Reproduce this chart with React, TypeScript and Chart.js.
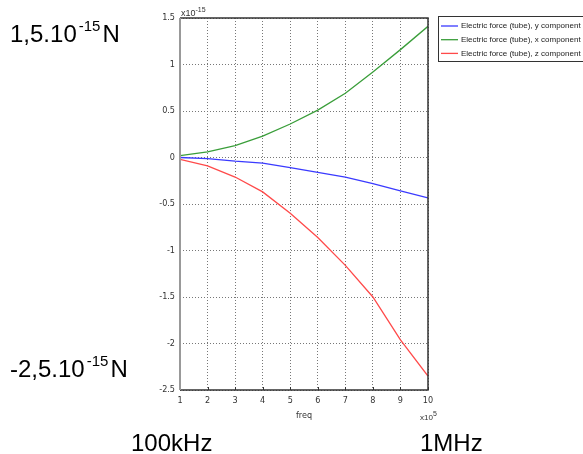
import React, { useEffect, useRef } from "react";
import { Chart, registerables } from "chart.js";

Chart.register(...registerables);

const freq = [1, 2, 3, 4, 5, 6, 7, 8, 9, 10];
const yComponent = [0, -0.013, -0.04, -0.06, -0.11, -0.16, -0.21, -0.28, -0.36, -0.435];
const xComponent = [0.02, 0.06, 0.127, 0.23, 0.36, 0.51, 0.69, 0.92, 1.16, 1.41];
const zComponent = [-0.02, -0.09, -0.21, -0.37, -0.6, -0.86, -1.16, -1.5, -1.96, -2.35];
const seriesNames = [
  "Electric force (tube), y component",
  "Electric force (tube), x component",
  "Electric force (tube), z component",
];
const seriesColors = ["#3a3aff", "#3a9e3a", "#ff4a4a"];
const xTickValues = [1, 2, 3, 4, 5, 6, 7, 8, 9, 10];
const yTickValues = [1.5, 1, 0.5, 0, -0.5, -1, -1.5, -2, -2.5];

const SANS = "'Liberation Sans', Arial, sans-serif";
const NARROW = "'Liberation Sans Narrow', 'DejaVu Sans Condensed', 'Liberation Sans', sans-serif";

function drawSup(ctx: CanvasRenderingContext2D, x: number, y: number, base: string, sup: string, tail: string, size: number, supSize: number, rise: number, gap = 0) {
  ctx.font = `${size}px ${SANS}`;
  ctx.fillText(base, x, y);
  let cx = x + ctx.measureText(base).width + gap;
  ctx.font = `${supSize}px ${SANS}`;
  ctx.fillText(sup, cx, y - rise);
  cx += ctx.measureText(sup).width + gap;
  if (tail) {
    ctx.font = `${size}px ${SANS}`;
    ctx.fillText(tail, cx, y);
  }
}

const overlay = {
  id: "overlay",
  afterDraw(chart: any) {
    const ctx = chart.ctx as CanvasRenderingContext2D;
    const a = chart.chartArea;
    const xs = chart.scales.x;
    ctx.save();
    // inner tick marks
    ctx.strokeStyle = "#333";
    ctx.lineWidth = 1;
    xTickValues.forEach((v) => {
      const px = Math.round(xs.getPixelForValue(v)) + 0.5;
      ctx.beginPath();
      ctx.moveTo(px, a.bottom);
      ctx.lineTo(px, a.bottom - 3);
      ctx.stroke();
    });
    // frame
    ctx.strokeStyle = "#333";
    ctx.lineWidth = 1.5;
    ctx.beginPath();
    ctx.moveTo(a.left, a.top);
    ctx.lineTo(a.right, a.top);
    ctx.lineTo(a.right, a.bottom);
    ctx.lineTo(a.left, a.bottom);
    ctx.stroke();
    ctx.strokeStyle = "#999";
    ctx.lineWidth = 2;
    ctx.beginPath();
    ctx.moveTo(a.left, a.top);
    ctx.lineTo(a.left, a.bottom);
    ctx.stroke();

    // axis exponents and title
    ctx.fillStyle = "#333";
    ctx.textBaseline = "alphabetic";
    ctx.textAlign = "left";
    drawSup(ctx, a.left + 1, a.top - 2, "x10", "-15", "", 9, 7, 4);
    drawSup(ctx, a.right - 8, a.bottom + 30, "x10", "5", "", 8, 7, 4);
    ctx.font = `9px ${NARROW}`;
    ctx.textAlign = "center";
    ctx.fillText("freq", xs.getPixelForValue(5.5), a.bottom + 28);

    // legend
    const lx = 438.5, ly = 16.5;
    ctx.fillStyle = "#fff";
    ctx.fillRect(lx, ly, 160, 45);
    ctx.strokeStyle = "#333";
    ctx.lineWidth = 1;
    ctx.strokeRect(lx, ly, 160, 45);
    ctx.textAlign = "left";
    ctx.textBaseline = "middle";
    ctx.font = `8px ${SANS}`;
    seriesNames.forEach((name, i) => {
      const yy = 26 + i * 13.7;
      ctx.strokeStyle = seriesColors[i];
      ctx.lineWidth = 1.3;
      ctx.beginPath();
      ctx.moveTo(441, yy);
      ctx.lineTo(458, yy);
      ctx.stroke();
      ctx.fillStyle = "#222";
      ctx.fillText(name, 461, yy);
    });

    // big annotations
    ctx.fillStyle = "#000";
    ctx.textBaseline = "alphabetic";
    drawSup(ctx, 10, 42, "1,5.10", "-15", "N", 24, 15, 11, 2);
    drawSup(ctx, 10, 377, "-2,5.10", "-15", "N", 24, 15, 11, 2);
    ctx.font = `24px ${SANS}`;
    ctx.fillText("100kHz", 131, 451);
    ctx.fillText("1MHz", 420, 451);
    ctx.restore();
  },
};

export default function App() {
  const ref = useRef<HTMLCanvasElement>(null);
  useEffect(() => {
    if (!ref.current) return;
    const chart = new Chart(ref.current, {
      type: "line",
      data: {
        datasets: [yComponent, xComponent, zComponent].map((vals, i) => ({
          label: seriesNames[i],
          data: freq.map((f, j) => ({ x: f, y: vals[j] })),
          borderColor: seriesColors[i],
          backgroundColor: seriesColors[i],
          borderWidth: 1.3,
          pointRadius: 0,
          tension: 0,
          fill: false,
        })),
      },
      options: {
        animation: false,
        responsive: false,
        devicePixelRatio: 1,
        layout: { padding: { left: 150, right: 155, top: 18, bottom: 34 } },
        plugins: { legend: { display: false }, tooltip: { enabled: false } },
        scales: {
          x: {
            type: "linear",
            min: 1,
            max: 10,
            afterFit: (s: any) => { s.height = 30; },
            afterBuildTicks: (s: any) => { s.ticks = xTickValues.map((v) => ({ value: v })); },
            ticks: {
              padding: 5,
              color: "#333",
              font: { family: NARROW, size: 9 },
              maxRotation: 0,
              callback: (v: any) => String(v),
            },
            grid: { color: "#777", drawTicks: false, lineWidth: 1 },
            border: { display: false, dash: [1, 2] },
          },
          y: {
            type: "linear",
            min: -2.5,
            max: 1.5,
            afterFit: (s: any) => { s.width = 30; },
            afterBuildTicks: (s: any) => { s.ticks = yTickValues.map((v) => ({ value: v })); },
            ticks: {
              padding: 5,
              color: "#333",
              font: { family: NARROW, size: 9 },
              callback: (v: any) => String(v),
            },
            grid: { color: "#777", drawTicks: false, lineWidth: 1 },
            border: { display: false, dash: [1, 2] },
          },
        },
      },
      plugins: [overlay],
    });
    return () => chart.destroy();
  }, []);
  return (
    <div style={{ position: "fixed", left: 0, top: 0, width: 583, height: 454, background: "#fff" }}>
      <canvas ref={ref} width={583} height={454} style={{ display: "block", width: 583, height: 454 }} />
    </div>
  );
}
